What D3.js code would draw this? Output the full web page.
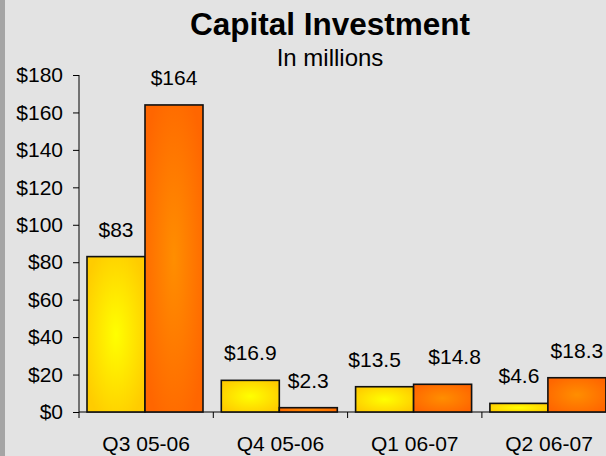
<!DOCTYPE html>
<html><head><meta charset="utf-8">
<script src="https://cdn.jsdelivr.net/npm/d3@7"></script>
<style>body{margin:0;background:#e3e3e3;}svg{display:block;font-family:"Liberation Sans",Arial,sans-serif;}</style>
</head><body>
<script>
const categories = ["Q3 05-06", "Q4 05-06", "Q1 06-07", "Q2 06-07"];
const seriesA = [83, 16.9, 13.5, 4.6];
const seriesB = [164, 2.3, 14.8, 18.3];
const labelsA = ["$83", "$16.9", "$13.5", "$4.6"];
const labelsB = ["$164", "$2.3", "$14.8", "$18.3"];
const yTicks = [0, 20, 40, 60, 80, 100, 120, 140, 160, 180];

const W = 606, H = 456;
const svg = d3.select("body").append("svg").attr("width", W).attr("height", H);
svg.append("rect").attr("width", W).attr("height", H).attr("fill", "#e3e3e3");
svg.append("rect").attr("width", 5).attr("height", H).attr("fill", "#a5a5a5");

const defs = svg.append("defs");
function grad(id, c0, c1) {
  const g = defs.append("radialGradient").attr("id", id).attr("cx", "50%").attr("cy", "50%").attr("r", "60%");
  g.append("stop").attr("offset", "0%").attr("stop-color", c0);
  g.append("stop").attr("offset", "100%").attr("stop-color", c1);
}
grad("gA", "#ffff00", "#ffcc00");
grad("gB", "#ff8e00", "#ff6600");

const x = d3.scaleBand().domain(categories).range([79, 79 + 4 * 134.3]).padding(0);
const y = d3.scaleLinear().domain([0, 180]).range([412, 75]);
const FS = 21;

// title
svg.append("text").attr("x", 330).attr("y", 35).attr("text-anchor", "middle")
  .attr("font-size", 31.5).attr("font-weight", "bold").text("Capital Investment");
svg.append("text").attr("x", 330).attr("y", 66).attr("text-anchor", "middle")
  .attr("font-size", 24).text("In millions");

// y axis
const yAxis = d3.axisLeft(y).tickValues(yTicks).tickSize(6).tickPadding(10).tickFormat(d => "$" + d);
const yg = svg.append("g").attr("transform", "translate(79,0)").call(yAxis);
yg.select(".domain").attr("stroke", "#000").attr("d", "M0,75V412");
yg.selectAll("text").attr("font-size", FS).attr("fill", "#000").attr("font-family", "Liberation Sans, Arial, sans-serif");

// x axis
const bw = x.bandwidth();
const xg = svg.append("g").attr("transform", "translate(0,412)");
xg.append("line").attr("x1", 79).attr("x2", W).attr("stroke", "#000");
xg.selectAll("line.tk").data(categories).enter().append("line").attr("class", "tk")
  .attr("x1", d => x(d)).attr("x2", d => x(d)).attr("y1", 0).attr("y2", 6).attr("stroke", "#000");
xg.selectAll("text").data(categories).enter().append("text")
  .attr("x", d => x(d) + bw / 2).attr("y", 39).attr("text-anchor", "middle").attr("font-size", FS).text(d => d);

// bars
const off = 8, barW = 58;
const rows = categories.map((c, i) => ({c, i}));
svg.selectAll("rect.a").data(rows).enter().append("rect").attr("class", "a")
  .attr("x", d => x(d.c) + off).attr("y", d => y(seriesA[d.i]))
  .attr("width", barW).attr("height", d => y(0) - y(seriesA[d.i]))
  .attr("fill", "url(#gA)").attr("stroke", "#111").attr("stroke-width", 1.6);
svg.selectAll("rect.b").data(rows).enter().append("rect").attr("class", "b")
  .attr("x", d => x(d.c) + off + barW).attr("y", d => y(seriesB[d.i]))
  .attr("width", barW).attr("height", d => y(0) - y(seriesB[d.i]))
  .attr("fill", "url(#gB)").attr("stroke", "#111").attr("stroke-width", 1.6);

// value labels (small nudges to avoid overlap)
const nudgeA = [0, 0, -10, 0];
const nudgeB = [0, 0, 12, 0];
svg.selectAll("text.la").data(rows).enter().append("text").attr("class", "la")
  .attr("x", d => x(d.c) + off + barW / 2 + nudgeA[d.i]).attr("y", d => y(seriesA[d.i]) - 20)
  .attr("text-anchor", "middle").attr("font-size", FS).text(d => labelsA[d.i]);
svg.selectAll("text.lb").data(rows).enter().append("text").attr("class", "lb")
  .attr("x", d => x(d.c) + off + barW * 1.5 + nudgeB[d.i]).attr("y", d => y(seriesB[d.i]) - 20)
  .attr("text-anchor", "middle").attr("font-size", FS).text(d => labelsB[d.i]);
</script>
</body></html>
